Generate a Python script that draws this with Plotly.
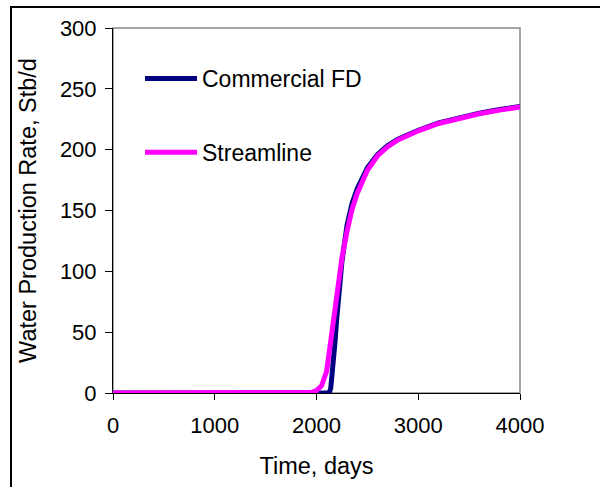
import plotly.graph_objects as go

# Data
time_fd = [0, 500, 1000, 1500, 2000, 2100, 2125, 2140, 2160, 2180, 2200, 2220, 2250, 2300, 2350, 2400,
           2500, 2600, 2700, 2800, 2900, 3000, 3200, 3400, 3600, 3800, 4000]
rate_fd = [0, 0, 0, 0, 0, 0, 0, 4, 18, 40, 62, 82, 108, 138, 156, 168,
           185, 196, 203.5, 208.5, 212.5, 216, 222, 226.5, 230, 233, 235.5]

time_sl = [0, 500, 1000, 1500, 1900, 1950, 2000, 2050, 2100, 2150, 2200, 2250, 2300, 2350, 2400,
           2500, 2600, 2700, 2800, 2900, 3000, 3200, 3400, 3600, 3800, 4000]
rate_sl = [0, 0, 0, 0, 0, 0.5, 2, 6, 18, 50, 84, 111, 133, 151, 164,
           183, 195, 202.5, 208, 212, 215.5, 221.5, 226, 229.5, 232.5, 235]

x_ticks = [0, 1000, 2000, 3000, 4000]
y_ticks = [0, 50, 100, 150, 200, 250, 300]

FONT = "Liberation Sans, Arial, sans-serif"

fig = go.Figure()
fig.add_trace(go.Scatter(x=time_fd, y=rate_fd, mode="lines", name="Commercial FD",
                         legendgroup="a", line=dict(color="#000080", width=5)))
fig.add_trace(go.Scatter(x=time_sl, y=rate_sl, mode="lines", name="Streamline",
                         legendgroup="b", line=dict(color="#FF00FF", width=5)))

L, R, T, B = 113, 520, 28, 393
W, H = 600, 487
pw, ph = R - L, B - T

def px(x):
    return (x - L) / pw

def py(y):
    return (B - y) / ph

fig.update_layout(
    width=W, height=H,
    margin=dict(l=L, r=W - R, t=T, b=H - B, pad=0),
    paper_bgcolor="white", plot_bgcolor="white",
    font=dict(family=FONT, size=22, color="black"),
    showlegend=True,
    legend=dict(x=px(140), y=py(57), xanchor="left", yanchor="top",
                bgcolor="rgba(0,0,0,0)", traceorder="grouped", tracegroupgap=41,
                font=dict(family=FONT, size=23, color="black"), itemwidth=52),
    xaxis=dict(range=[0, 4000], tickvals=x_ticks, showgrid=False, zeroline=False,
               showline=True, linecolor="black", linewidth=1,
               ticks="outside", ticklen=6, tickcolor="black", ticklabelstandoff=7,
               tickfont=dict(family=FONT, size=22, color="black"),
               title=dict(text="Time, days", standoff=20,
                          font=dict(family=FONT, size=23.5, color="black"))),
    yaxis=dict(range=[0, 300], tickvals=y_ticks, showgrid=False, zeroline=False,
               showline=True, linecolor="black", linewidth=1,
               ticks="outside", ticklen=7, tickcolor="black", ticklabelstandoff=4,
               tickfont=dict(family=FONT, size=22, color="black"),
               title=dict(text="Water Production Rate, Stb/d", standoff=16,
                          font=dict(family=FONT, size=23.5, color="black"))),
    shapes=[
        dict(type="rect", xref="paper", yref="paper", x0=0, x1=1, y0=0, y1=1,
             line=dict(color="#888888", width=1.5), layer="below"),
        dict(type="rect", xref="paper", yref="paper", x0=px(11), x1=px(610),
             y0=py(500), y1=py(7), line=dict(color="black", width=2), layer="below"),
    ],
)

fig.write_html("out.html")
